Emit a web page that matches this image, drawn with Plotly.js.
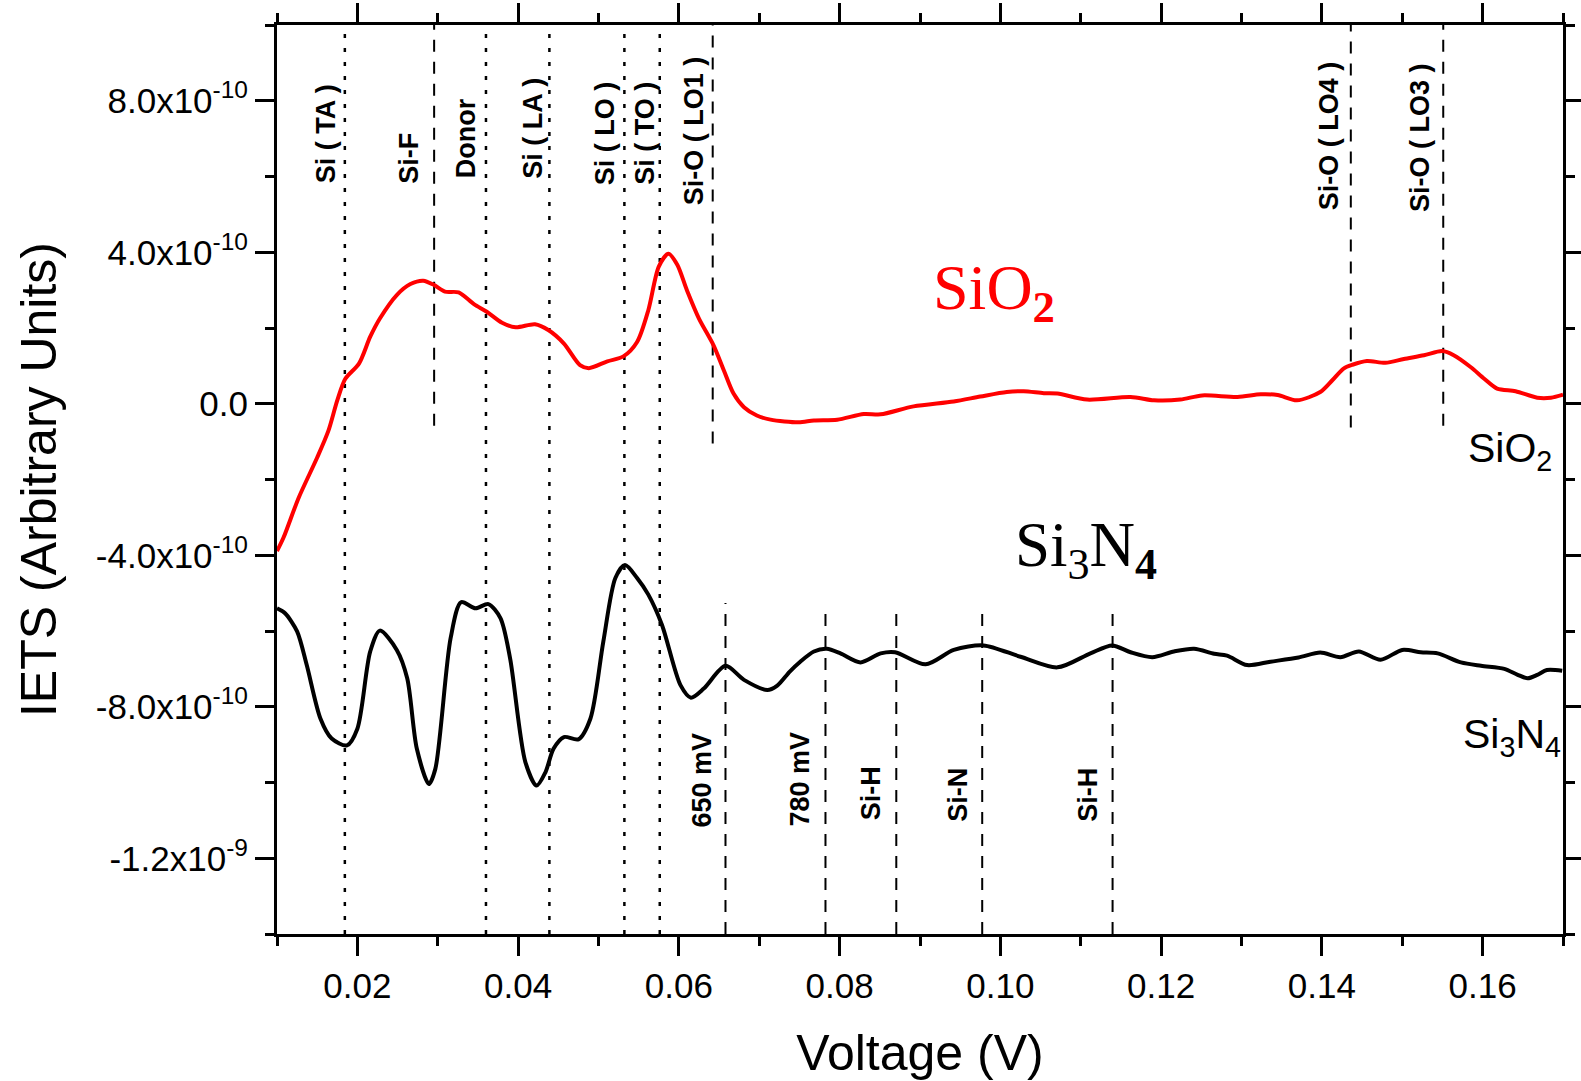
<!DOCTYPE html>
<html><head><meta charset="utf-8">
<script src="https://cdn.plot.ly/plotly-3.0.1.min.js"></script>
<style>html,body{margin:0;padding:0;background:#fff;}</style>
</head><body><div id="chart" style="width:1581px;height:1081px;"></div>
<script>
// ---- data ----
const sio2Voltage = [0.0100,0.0108,0.0127,0.0150,0.0164,0.0175,0.0185,0.0202,0.0216,0.0228,0.0249,0.0266,0.0282,0.0295,0.0309,0.0326,0.0345,0.0361,0.0380,0.0397,0.0421,0.0438,0.0457,0.0477,0.0488,0.0511,0.0531,0.0548,0.0562,0.0575,0.0587,0.0598,0.0610,0.0625,0.0643,0.0656,0.0668,0.0681,0.0697,0.0714,0.0749,0.0768,0.0797,0.0830,0.0851,0.0892,0.0942,0.0975,0.1008,0.1029,0.1054,0.1071,0.1108,0.1162,0.1191,0.1224,0.1251,0.1295,0.1324,0.1345,0.1369,0.1398,0.1413,0.1427,0.1438,0.1456,0.1479,0.1502,0.1527,0.1550,0.1564,0.1585,0.1602,0.1618,0.1641,0.1668,0.1685,0.1700];
const sio2Iets = [-3.89e-10,-3.54e-10,-2.48e-10,-1.42e-10,-0.71e-10,0.09e-10,0.66e-10,1.06e-10,1.77e-10,2.25e-10,2.87e-10,3.16e-10,3.25e-10,3.14e-10,2.96e-10,2.94e-10,2.63e-10,2.43e-10,2.14e-10,2.02e-10,2.10e-10,1.94e-10,1.59e-10,1.02e-10,0.94e-10,1.12e-10,1.25e-10,1.63e-10,2.47e-10,3.62e-10,3.96e-10,3.67e-10,3.00e-10,2.25e-10,1.55e-10,0.88e-10,0.27e-10,-0.09e-10,-0.31e-10,-0.42e-10,-0.49e-10,-0.44e-10,-0.42e-10,-0.27e-10,-0.28e-10,-0.07e-10,0.06e-10,0.19e-10,0.31e-10,0.33e-10,0.28e-10,0.27e-10,0.11e-10,0.18e-10,0.09e-10,0.11e-10,0.22e-10,0.18e-10,0.25e-10,0.23e-10,0.09e-10,0.31e-10,0.62e-10,0.93e-10,1.03e-10,1.13e-10,1.08e-10,1.18e-10,1.28e-10,1.39e-10,1.28e-10,0.97e-10,0.66e-10,0.40e-10,0.33e-10,0.16e-10,0.16e-10,0.24e-10];

const si3n4Voltage = [0.0100,0.0110,0.0125,0.0137,0.0154,0.0168,0.0187,0.0200,0.0216,0.0228,0.0249,0.0262,0.0274,0.0289,0.0297,0.0316,0.0329,0.0347,0.0363,0.0378,0.0390,0.0409,0.0423,0.0434,0.0444,0.0457,0.0475,0.0490,0.0506,0.0521,0.0533,0.0548,0.0562,0.0579,0.0602,0.0615,0.0631,0.0658,0.0681,0.0710,0.0722,0.0738,0.0751,0.0768,0.0784,0.0801,0.0826,0.0851,0.0869,0.0907,0.0942,0.0979,0.1025,0.1071,0.1112,0.1139,0.1162,0.1189,0.1216,0.1241,0.1266,0.1282,0.1307,0.1336,0.1371,0.1398,0.1423,0.1446,0.1473,0.1500,0.1523,0.1544,0.1573,0.1598,0.1627,0.1643,0.1656,0.1668,0.1680,0.1699];
const si3n4Iets = [-5.40e-10,-5.53e-10,-6.01e-10,-6.90e-10,-8.31e-10,-8.84e-10,-9.02e-10,-8.58e-10,-6.54e-10,-5.99e-10,-6.50e-10,-7.25e-10,-9.11e-10,-10.04e-10,-9.64e-10,-6.19e-10,-5.24e-10,-5.40e-10,-5.29e-10,-5.66e-10,-6.72e-10,-9.46e-10,-10.08e-10,-9.73e-10,-9.11e-10,-8.80e-10,-8.86e-10,-8.31e-10,-6.28e-10,-4.60e-10,-4.26e-10,-4.60e-10,-5.04e-10,-5.84e-10,-7.43e-10,-7.76e-10,-7.52e-10,-6.92e-10,-7.29e-10,-7.56e-10,-7.45e-10,-7.07e-10,-6.81e-10,-6.54e-10,-6.47e-10,-6.59e-10,-6.83e-10,-6.59e-10,-6.56e-10,-6.88e-10,-6.50e-10,-6.38e-10,-6.68e-10,-6.96e-10,-6.59e-10,-6.38e-10,-6.56e-10,-6.69e-10,-6.54e-10,-6.47e-10,-6.60e-10,-6.65e-10,-6.90e-10,-6.81e-10,-6.70e-10,-6.57e-10,-6.69e-10,-6.54e-10,-6.76e-10,-6.50e-10,-6.56e-10,-6.59e-10,-6.83e-10,-6.92e-10,-7.00e-10,-7.15e-10,-7.25e-10,-7.16e-10,-7.03e-10,-7.05e-10];

// peak assignments (SiO2 region, upper)
const fullPeakVoltage = [0.01844,0.0360,0.04389,0.05322,0.05762];          // full-height markers
const partPeakVoltage = [0.02955,0.06421,0.1436,0.1551];                   // markers ending at the SiO2 curve
const partPeakLow = [-0.58e-10,-1.05e-10,-0.63e-10,-0.58e-10];
const sio2PeakText = ["Si ( TA )","Si-F","Donor","Si ( LA )","Si ( LO )","Si ( TO )","Si-O ( LO1 )","Si-O ( LO4 )","Si-O ( LO3 )"];
const sio2PeakTextV = [0.01612,0.02639,0.03347,0.04181,0.05085,0.05583,0.06193,0.14081,0.15228];
const sio2PeakTextBase = [5.79e-10,5.79e-10,5.92e-10,5.92e-10,5.75e-10,5.75e-10,5.21e-10,5.08e-10,5.04e-10];

// peak assignments (Si3N4, lower)
const nitridePeakVoltage = [0.0658,0.07824,0.08705,0.09774,0.11396];
const nitridePeakTop = [-5.26e-10,-5.29e-10,-5.35e-10,-5.41e-10,-5.41e-10];
const nitridePeakText = ["650 mV","780 mV","Si-H","Si-N","Si-H"];
const nitridePeakTextV = [0.06288,0.07512,0.08383,0.09478,0.11096];
const nitridePeakTextBase = [-11.23e-10,-11.19e-10,-11.01e-10,-11.05e-10,-11.05e-10];

const yTickVals = [-1.2e-9,-8e-10,-4e-10,0,4e-10,8e-10];
const yTickText = ["-1.2x10<sup>-9</sup>","-8.0x10<sup>-10</sup>","-4.0x10<sup>-10</sup>","0.0","4.0x10<sup>-10</sup>","8.0x10<sup>-10</sup>"];
const yRange = [-1.4e-9, 1.0e-9];
const xRange = [0.01, 0.17];

// ---- drawing ----
const SANS = "Liberation Sans, Arial, sans-serif";
const SERIF = "Liberation Serif, Times New Roman, serif";

const traces = [
  {x: sio2Voltage, y: sio2Iets, mode:'lines', line:{color:'#ff0000', width:4, shape:'spline', smoothing:0.8}, name:'SiO2', hoverinfo:'skip'},
  {x: si3n4Voltage, y: si3n4Iets, mode:'lines', line:{color:'#000000', width:4, shape:'spline', smoothing:0.8}, name:'Si3N4', hoverinfo:'skip'}
];

const shapes = [];
fullPeakVoltage.forEach(v => shapes.push({type:'line', xref:'x', yref:'y', x0:v, x1:v, y0:yRange[0], y1:yRange[1], layer:'below', line:{color:'#000', width:2.5, dash:'4px,10px'}}));
partPeakVoltage.forEach((v,i) => shapes.push({type:'line', xref:'x', yref:'y', x0:v, x1:v, y0:partPeakLow[i], y1:yRange[1], layer:'below', line:{color:'#000', width:2, dash:'12px,10px'}}));
nitridePeakVoltage.forEach((v,i) => shapes.push({type:'line', xref:'x', yref:'y', x0:v, x1:v, y0:yRange[0], y1:nitridePeakTop[i], layer:'below', line:{color:'#000', width:2, dash:'12px,10px'}}));

const annotations = [];
sio2PeakText.forEach((t,i) => annotations.push({x:sio2PeakTextV[i], y:sio2PeakTextBase[i], xref:'x', yref:'y', text:'<b>'+t+'</b>', textangle:-90, showarrow:false, xanchor:'center', yanchor:'bottom', borderpad:0, font:{family:SANS, size:27, color:'#000'}}));
nitridePeakText.forEach((t,i) => annotations.push({x:nitridePeakTextV[i], y:nitridePeakTextBase[i], xref:'x', yref:'y', text:'<b>'+t+'</b>', textangle:-90, showarrow:false, xanchor:'center', yanchor:'bottom', borderpad:0, font:{family:SANS, size:27, color:'#000'}}));
annotations.push({x:0.09926, y:2.95e-10, xref:'x', yref:'y', text:'SiO<sub><b>2</b></sub>', showarrow:false, xanchor:'center', yanchor:'middle', font:{family:SERIF, size:64, color:'#ff0000'}});
annotations.push({x:0.11062, y:-3.84e-10, xref:'x', yref:'y', text:'Si<sub>3</sub>N<sub><b>4</b></sub>', showarrow:false, xanchor:'center', yanchor:'middle', font:{family:SERIF, size:63, color:'#000'}});
annotations.push({x:0.16336, y:-1.26e-10, xref:'x', yref:'y', text:'SiO<sub>2</sub>', showarrow:false, xanchor:'center', yanchor:'middle', font:{family:SANS, size:41, color:'#000'}});
annotations.push({x:0.1637, y:-8.80e-10, xref:'x', yref:'y', text:'Si<sub>3</sub>N<sub>4</sub>', showarrow:false, xanchor:'center', yanchor:'middle', font:{family:SANS, size:41, color:'#000'}});

const axisCommon = {showline:true, linewidth:3, linecolor:'#000', mirror:'ticks', ticks:'outside', ticklen:19, tickwidth:3, tickcolor:'#000', showgrid:false, zeroline:false, automargin:false};

const layout = {
  width:1581, height:1081,
  margin:{l:277, r:18, t:25, b:147, pad:0},
  paper_bgcolor:'#fff', plot_bgcolor:'#fff',
  showlegend:false,
  xaxis: Object.assign({}, axisCommon, {
    range:xRange, tickmode:'linear', tick0:0, dtick:0.02, tickformat:'.2f',
    minor:{tick0:0, dtick:0.01, ticks:'outside', ticklen:9, tickwidth:3, tickcolor:'#000', showgrid:false},
    tickfont:{family:SANS, size:35, color:'#000'},
    title:{text:'Voltage (V)', font:{family:SANS, size:50, color:'#000'}, standoff:32}
  }),
  yaxis: Object.assign({}, axisCommon, {
    range:yRange, tickmode:'array', tickvals:yTickVals, ticktext:yTickText,
    minor:{tick0:0, dtick:2e-10, ticks:'outside', ticklen:9, tickwidth:3, tickcolor:'#000', showgrid:false},
    tickfont:{family:SANS, size:35, color:'#000'},
    title:{text:'IETS (Arbitrary Units)', font:{family:SANS, size:50, color:'#000'}, standoff:24}
  }),
  shapes: shapes,
  annotations: annotations
};

Plotly.newPlot('chart', traces, layout, {staticPlot:true, displayModeBar:false});
</script>
</body></html>
